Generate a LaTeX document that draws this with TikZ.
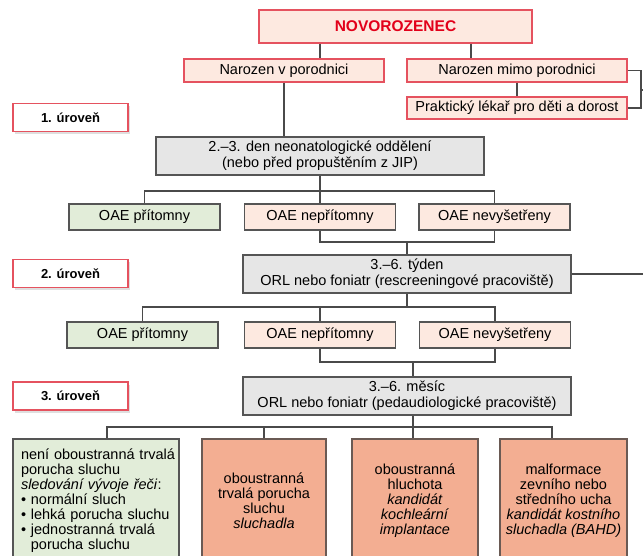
\documentclass[tikz,border=0pt]{standalone}
\usepackage{fontspec}
\setmainfont{Liberation Sans}
\usetikzlibrary{shadows}
\definecolor{redb}{HTML}{E5525F}
\definecolor{redt}{HTML}{E2001A}
\definecolor{peach}{HTML}{FDE9E0}
\definecolor{grayf}{HTML}{E6E6E6}
\definecolor{grayb}{HTML}{555555}
\definecolor{greenf}{HTML}{E2EDD9}
\definecolor{salmon}{HTML}{F3AE92}
\definecolor{salmonb}{HTML}{6A5A54}
\definecolor{linec}{HTML}{4A4A4A}
\newcommand{\mainfs}{\fontsize{14.5}{16}\selectfont}
\newcommand{\boxfs}{\fontsize{14.5}{15}\selectfont}
\begin{document}
\begin{tikzpicture}[x=1pt,y=-1pt,
 every node/.style={inner sep=0pt, font=\mainfs},
 redbox/.style={draw=redb, line width=1.4pt, fill=peach},
 greybox/.style={draw=grayb, line width=1.1pt, fill=grayf, align=center, minimum width=328, minimum height=38},
 oaeg/.style={draw=grayb, line width=1.1pt, fill=greenf, minimum width=151, minimum height=26},
 oaer/.style={draw=grayb, line width=1.1pt, fill=peach, minimum width=151, minimum height=26},
 lvl/.style={draw=redb, line width=1.4pt, fill=white, minimum width=115, minimum height=28, font=\fontsize{13}{15}\selectfont\bfseries, drop shadow={shadow xshift=2pt, shadow yshift=-2.5pt, opacity=0.25}},
 bottombox/.style={line width=1.1pt, minimum height=124, font=\boxfs},
 conn/.style={draw=linec, line width=1.1pt}]
\clip (0,0) rectangle (643,556);
% level 0
\node[redbox, minimum width=273, minimum height=33, font=\fontsize{15.5}{17}\selectfont\bfseries, text=redt] (nov) at (395.5,26.5) {NOVOROZENEC};
\node[redbox, minimum width=200, minimum height=23] (nvp) at (284,70.5) {Narozen v porodnici};
\node[redbox, minimum width=220, minimum height=23] (nmp) at (517,70.5) {Narozen mimo porodnici};
\node[redbox, minimum width=220, minimum height=22] (pl) at (517,108) {Praktický lékař pro děti a dorost};
% levels
\node[lvl] (l1) at (70.5,117.5) {1. úroveň};
\node[lvl] (l2) at (70.5,273.5) {2. úroveň};
\node[lvl] (l3) at (70.5,396) {3. úroveň};
% level 1
\node[greybox] (g1) at (320,156) {2.–3. den neonatologické oddělení\\(nebo před propuštěním z JIP)};
\node[oaeg] (a1) at (144.5,217) {OAE přítomny};
\node[oaer] (b1) at (320,217) {OAE nepřítomny};
\node[oaer] (c1) at (494.5,217) {OAE nevyšetřeny};
% level 2
\node[greybox] (g2) at (407,274) {3.–6. týden\\ORL nebo foniatr (rescreeningové pracoviště)};
\node[oaeg] (a2) at (142.5,335) {OAE přítomny};
\node[oaer] (b2) at (320,335) {OAE nepřítomny};
\node[oaer] (c2) at (495,335) {OAE nevyšetřeny};
% level 3
\node[greybox] (g3) at (407,396) {3.–6. měsíc\\ORL nebo foniatr (pedaudiologické pracoviště)};
\node[bottombox, draw=grayb, fill=greenf, minimum width=166, text width=150, align=left] (d1) at (96,501)
 {\mbox{není oboustranná trvalá}\\porucha sluchu\\\textit{sledování vývoje řeči}:\\\mbox{• normální sluch}\\\mbox{• lehká porucha sluchu}\\\mbox{• jednostranná trvalá}\\\mbox{\hphantom{• }porucha sluchu}};
\node[bottombox, draw=salmonb, fill=salmon, minimum width=124, align=center] (d2) at (264,501)
 {oboustranná\\trvalá porucha\\sluchu\\\textit{sluchadla}};
\node[bottombox, draw=salmonb, fill=salmon, minimum width=126, align=center] (d3) at (415,501)
 {oboustranná\\hluchota\\\textit{kandidát}\\\textit{kochleární}\\\textit{implantace}};
\node[bottombox, draw=salmonb, fill=salmon, minimum width=127, align=center] (d4) at (563.5,501)
 {malformace\\zevního nebo\\středního ucha\\\textit{kandidát kostního}\\\textit{sluchadla (BAHD)}};
% connectors
\coordinate (t1) at (320,0);
\coordinate (t2) at (471,0);
\draw[conn] (nov.south -| t1) -- (nvp.north -| t1);
\draw[conn] (nov.south -| t2) -- (nmp.north -| t2);
\draw[conn] (nvp.south) -- (nvp.south |- g1.north);
\draw[conn] (nmp.south) -- (pl.north);
\coordinate (bk) at (641,90);
\coordinate (bkend) at (650,90);
\draw[conn] (nmp.east) -| (bk) |- (pl.east);
\draw[conn] (bk) -- (bkend);
\coordinate (s1) at (320,191);
\draw[conn] (g1.south) -- (s1);
\draw[conn] (a1.north) |- (s1) -| (c1.north);
\draw[conn] (s1) -- (b1.north);
\coordinate (m1) at (407,242);
\draw[conn] (b1.south) |- (m1) -| (c1.south);
\draw[conn] (m1) -- (g2.north);
\coordinate (r2) at (650,274);
\draw[conn] (g2.east) -- (r2);
\coordinate (s2) at (407,307);
\draw[conn] (g2.south) -- (s2);
\draw[conn] (a2.north) |- (s2) -| (c2.north);
\draw[conn] (s2 -| b2.north) -- (b2.north);
\coordinate (m2) at (413,362);
\draw[conn] (b2.south) |- (m2) -| (c2.south);
\draw[conn] (m2) -- (m2 |- g3.north);
\coordinate (s3) at (413,427);
\draw[conn] (g3.south -| s3) -- (d3.north -| s3);
\coordinate (e1) at (107,427);
\coordinate (e4) at (552,427);
\draw[conn] (d1.north -| e1) -- (e1) -- (e4) -- (d4.north -| e4);
\draw[conn] (d2.north) -- (d2.north |- e1);
\end{tikzpicture}
\end{document}
